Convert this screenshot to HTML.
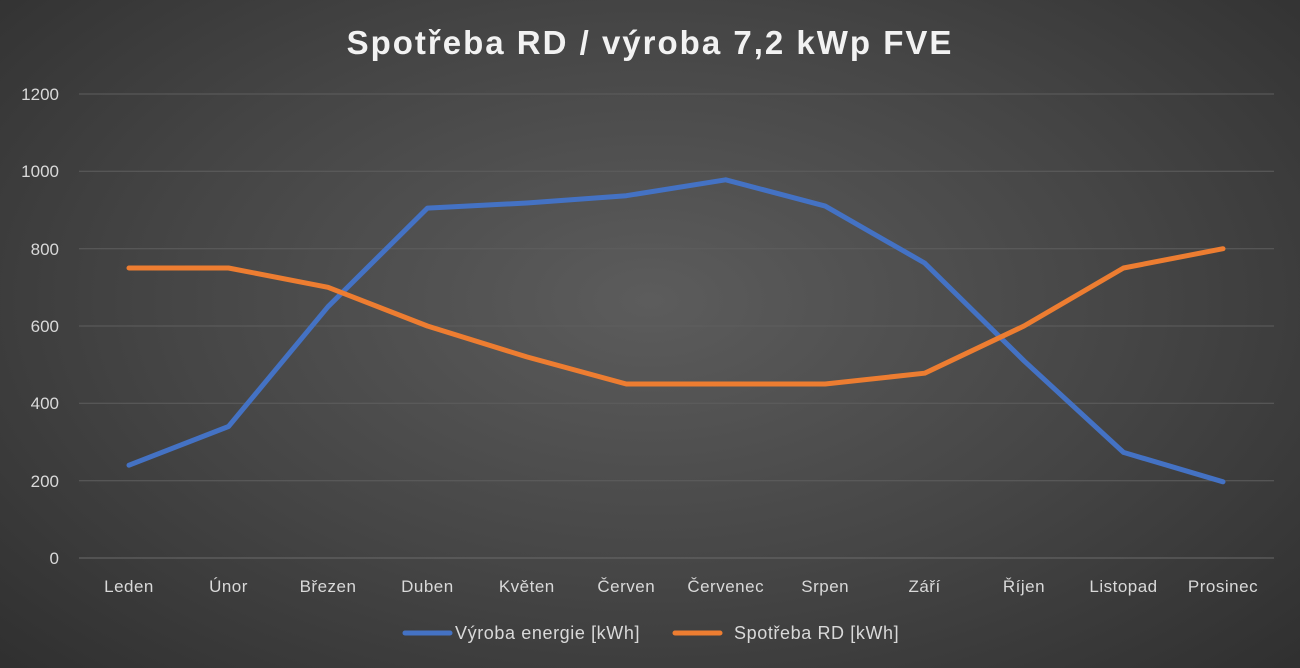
<!DOCTYPE html>
<html><head><meta charset="utf-8"><style>
html,body{margin:0;padding:0;width:1300px;height:668px;overflow:hidden}
body{background:radial-gradient(ellipse 75% 85% at 50% 45%,#5c5c5c 0%,#454545 50%,#2c2c2c 100%)}
svg{position:absolute;left:0;top:0;font-family:"Liberation Sans",sans-serif}
</style></head><body>
<svg width="1300" height="668" viewBox="0 0 1300 668">
<text x="650" y="54" text-anchor="middle" fill="#f2f2f2" font-size="33" font-weight="bold" letter-spacing="2">Spotřeba RD / výroba 7,2 kWp FVE</text>
<g stroke="#5e5e5e" stroke-width="1">
<line x1="79" x2="1274" y1="94" y2="94"/><line x1="79" x2="1274" y1="171.3" y2="171.3"/>
<line x1="79" x2="1274" y1="248.7" y2="248.7"/><line x1="79" x2="1274" y1="326" y2="326"/>
<line x1="79" x2="1274" y1="403.3" y2="403.3"/><line x1="79" x2="1274" y1="480.7" y2="480.7"/>
<line x1="79" x2="1274" y1="558" y2="558" stroke="#6a6a6a"/>
</g>
<g fill="#d9d9d9" font-size="17" text-anchor="end">
<text x="59" y="100">1200</text><text x="59" y="177">1000</text><text x="59" y="255">800</text>
<text x="59" y="332">600</text><text x="59" y="409">400</text><text x="59" y="487">200</text><text x="59" y="564">0</text>
</g>
<g fill="#d9d9d9" font-size="17" text-anchor="middle" letter-spacing="0.5">
<text x="129" y="592">Leden</text><text x="228.5" y="592">Únor</text><text x="328" y="592">Březen</text>
<text x="427.4" y="592">Duben</text><text x="526.8" y="592">Květen</text><text x="626.3" y="592">Červen</text>
<text x="725.7" y="592">Červenec</text><text x="825.2" y="592">Srpen</text><text x="924.6" y="592">Září</text>
<text x="1024" y="592">Říjen</text><text x="1123.5" y="592">Listopad</text><text x="1223" y="592">Prosinec</text>
</g>
<polyline fill="none" stroke="#4472c4" stroke-width="5" stroke-linejoin="round" stroke-linecap="round"
points="129,465.2 228.5,426.5 328,306.7 427.4,208.1 526.8,203 626.3,195.7 725.7,179.8 825.2,206.1 924.6,263 1024,360.8 1123.5,452.4 1223,481.8"/>
<polyline fill="none" stroke="#ed7d31" stroke-width="5" stroke-linejoin="round" stroke-linecap="round"
points="129,268 228.5,268 328,287.3 427.4,326 526.8,356.9 626.3,384 725.7,384 825.2,384 924.6,373.2 1024,326 1123.5,268 1223,248.7"/>
<line x1="405" x2="450" y1="633" y2="633" stroke="#4472c4" stroke-width="5" stroke-linecap="round"/>
<text x="455" y="639" fill="#d9d9d9" font-size="18" letter-spacing="0.6">Výroba energie [kWh]</text>
<line x1="675" x2="720" y1="633" y2="633" stroke="#ed7d31" stroke-width="5" stroke-linecap="round"/>
<text x="734" y="639" fill="#d9d9d9" font-size="18" letter-spacing="0.6">Spotřeba RD [kWh]</text>
</svg>
</body></html>
